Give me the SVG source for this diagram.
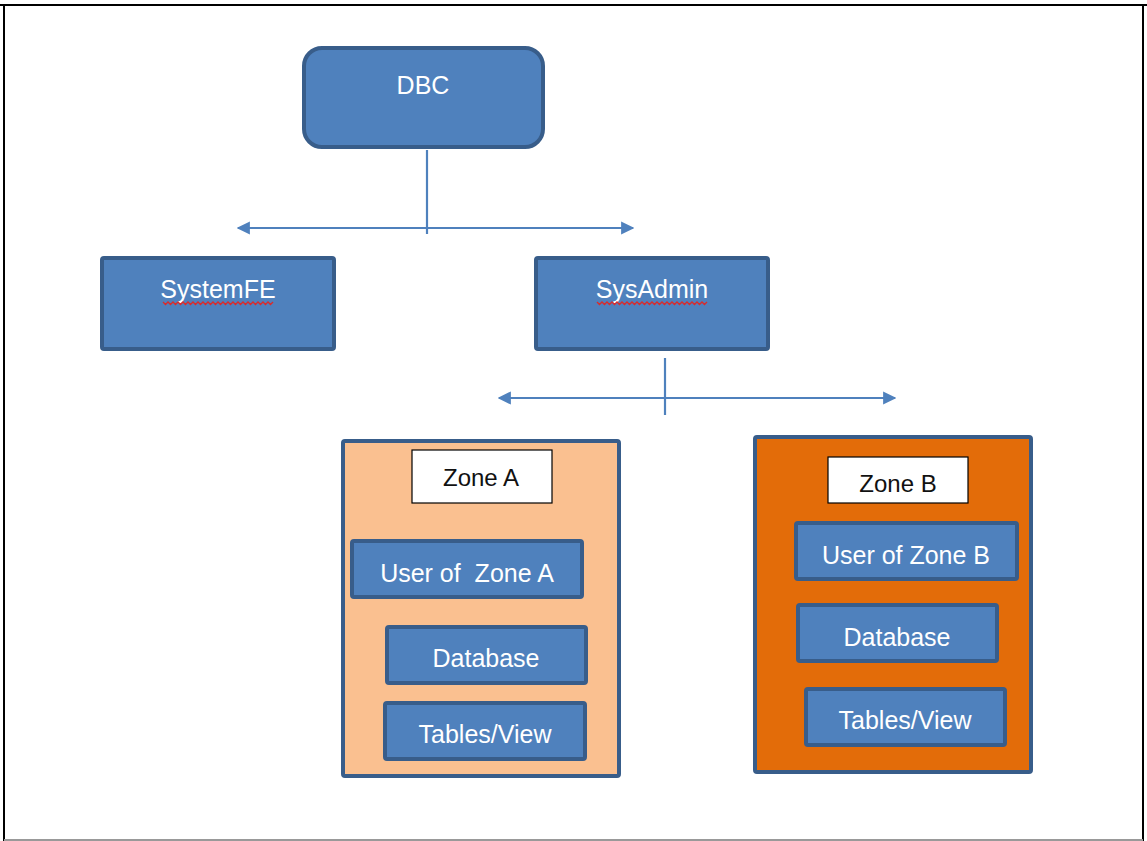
<svg xmlns="http://www.w3.org/2000/svg" width="1147" height="841" viewBox="0 0 1147 841">
<defs>
<style>
.node{fill:#4F81BD;stroke:#385D8A;stroke-width:4}
.zone{stroke:#385D8A;stroke-width:4}
.lbl{fill:#FFFFFF;stroke:#000000;stroke-width:1.2}
.t{font-family:"Liberation Sans",Arial,sans-serif;font-size:25px;fill:#FFFFFF;text-anchor:middle}
.tk{font-family:"Liberation Sans",Arial,sans-serif;font-size:24px;fill:#111111;text-anchor:middle}
.conn{stroke:#4F81BD;stroke-width:2.2;fill:none}
.wavy{stroke:#D92B2B;stroke-width:1.4;fill:none}
</style>
<marker id="ah" viewBox="0 0 10 10" refX="9" refY="5" markerWidth="6" markerHeight="6" orient="auto-start-reverse">
<path d="M0,0 L10,5 L0,10 Z" fill="#4F81BD"/>
</marker>
</defs>
<rect x="0" y="0" width="1147" height="841" fill="#FFFFFF"/>
<g id="frame">
<line x1="0" y1="5" x2="1147" y2="5" stroke="#000" stroke-width="2"/>
<line x1="4" y1="5" x2="4" y2="841" stroke="#000" stroke-width="2"/>
<line x1="1143" y1="5" x2="1143" y2="841" stroke="#000" stroke-width="2"/>
<line x1="4" y1="840" x2="1143" y2="840" stroke="#999" stroke-width="2"/>
</g>
<g id="connectors">
<line class="conn" x1="427" y1="150" x2="427" y2="234"/>
<line class="conn" x1="238" y1="228" x2="633" y2="228" marker-start="url(#ah)" marker-end="url(#ah)"/>
<line class="conn" x1="665" y1="358" x2="665" y2="415"/>
<line class="conn" x1="499" y1="398" x2="895" y2="398" marker-start="url(#ah)" marker-end="url(#ah)"/>
</g>
<g id="dbc">
<rect class="node" x="304" y="48" width="239" height="99" rx="18"/>
<text class="t" x="423" y="94">DBC</text>
</g>
<g id="systemfe">
<rect class="node" x="102" y="258" width="232" height="91" rx="2"/>
<text class="t" x="218" y="298">SystemFE</text>
<path class="wavy" d="M163,302 l2.5,2.5 l2.5,-2.5 l2.5,2.5 l2.5,-2.5 l2.5,2.5 l2.5,-2.5 l2.5,2.5 l2.5,-2.5 l2.5,2.5 l2.5,-2.5 l2.5,2.5 l2.5,-2.5 l2.5,2.5 l2.5,-2.5 l2.5,2.5 l2.5,-2.5 l2.5,2.5 l2.5,-2.5 l2.5,2.5 l2.5,-2.5 l2.5,2.5 l2.5,-2.5 l2.5,2.5 l2.5,-2.5 l2.5,2.5 l2.5,-2.5 l2.5,2.5 l2.5,-2.5 l2.5,2.5 l2.5,-2.5 l2.5,2.5 l2.5,-2.5 l2.5,2.5 l2.5,-2.5 l2.5,2.5 l2.5,-2.5 l2.5,2.5 l2.5,-2.5 l2.5,2.5 l2.5,-2.5 l2.5,2.5 l2.5,-2.5 l2.5,2.5 l2.5,-2.5"/>
</g>
<g id="sysadmin">
<rect class="node" x="536" y="258" width="232" height="91" rx="2"/>
<text class="t" x="652" y="298">SysAdmin</text>
<path class="wavy" d="M597,302 l2.5,2.5 l2.5,-2.5 l2.5,2.5 l2.5,-2.5 l2.5,2.5 l2.5,-2.5 l2.5,2.5 l2.5,-2.5 l2.5,2.5 l2.5,-2.5 l2.5,2.5 l2.5,-2.5 l2.5,2.5 l2.5,-2.5 l2.5,2.5 l2.5,-2.5 l2.5,2.5 l2.5,-2.5 l2.5,2.5 l2.5,-2.5 l2.5,2.5 l2.5,-2.5 l2.5,2.5 l2.5,-2.5 l2.5,2.5 l2.5,-2.5 l2.5,2.5 l2.5,-2.5 l2.5,2.5 l2.5,-2.5 l2.5,2.5 l2.5,-2.5 l2.5,2.5 l2.5,-2.5 l2.5,2.5 l2.5,-2.5 l2.5,2.5 l2.5,-2.5 l2.5,2.5 l2.5,-2.5 l2.5,2.5 l2.5,-2.5 l2.5,2.5 l2.5,-2.5"/>
</g>
<g id="zone-a">
<rect class="zone" x="343" y="441" width="276" height="335" rx="2" fill="#FAC090"/>
<rect class="lbl" x="412" y="450" width="140" height="53"/>
<text class="tk" x="481" y="486">Zone A</text>
</g>
<g id="user-zone-a">
<rect class="node" x="352" y="541" width="230" height="56" rx="2"/>
<text class="t" x="467" y="582" xml:space="preserve">User of  Zone A</text>
</g>
<g id="database-a">
<rect class="node" x="387" y="627" width="199" height="56" rx="2"/>
<text class="t" x="486" y="667">Database</text>
</g>
<g id="tables-a">
<rect class="node" x="385" y="703" width="200" height="56" rx="2"/>
<text class="t" x="485" y="743">Tables/View</text>
</g>
<g id="zone-b">
<rect class="zone" x="755" y="437" width="276" height="335" rx="2" fill="#E36C09"/>
<rect class="lbl" x="828" y="457" width="140" height="46"/>
<text class="tk" x="898" y="492">Zone B</text>
</g>
<g id="user-zone-b">
<rect class="node" x="796" y="523" width="221" height="56" rx="2"/>
<text class="t" x="906" y="564">User of Zone B</text>
</g>
<g id="database-b">
<rect class="node" x="798" y="605" width="199" height="56" rx="2"/>
<text class="t" x="897" y="646">Database</text>
</g>
<g id="tables-b">
<rect class="node" x="806" y="689" width="199" height="56" rx="2"/>
<text class="t" x="905" y="729">Tables/View</text>
</g>
</svg>
